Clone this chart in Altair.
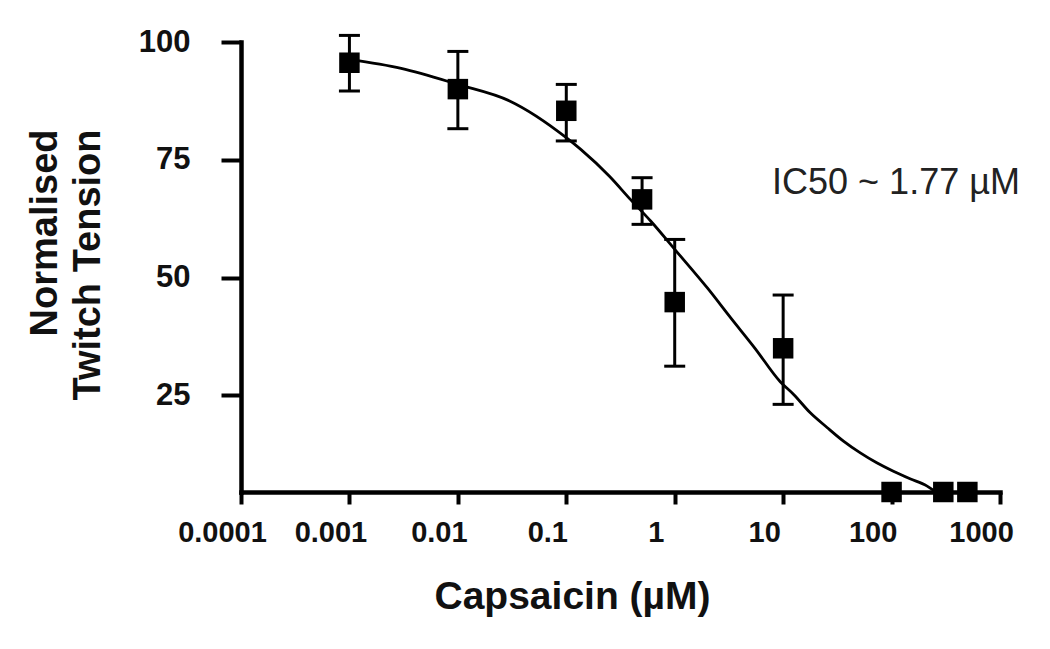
import altair as alt
import pandas as pd

# Measured data (Capsaicin concentration, µM) and normalised twitch tension
conc = [0.001, 0.01, 0.1, 0.5, 1, 10, 100, 300, 500]
tension = [95.6, 90.0, 85.4, 66.6, 44.8, 35.0, 4.5, 4.5, 4.5]

# Error bars (upper / lower ends) for the first six points
err_conc = [0.001, 0.01, 0.1, 0.5, 1, 10]
err_hi = [101.4, 98.0, 91.0, 71.2, 58.1, 46.3]
err_lo = [89.6, 81.6, 79.0, 61.3, 31.2, 23.1]

# Fitted curve
fit_x = [0.001, 0.003, 0.01, 0.03, 0.1, 0.136, 0.25, 0.39, 0.6, 1, 2, 3.3, 5.5, 9.4, 12.5,
         17.8, 25.4, 36, 51.5, 73, 104, 148, 211, 252]
fit_y = [96.3, 94.4, 91.0, 87.5, 79.7, 77.2, 71.5, 66.6, 62.0, 56.0, 47.8, 41.4, 35.0, 27.9, 25.2,
         21.3, 18.2, 15.3, 12.8, 10.7, 8.9, 7.3, 5.8, 4.6]

x_ticks = [0.0001, 0.001, 0.01, 0.1, 1, 10, 100, 1000]
y_ticks = [25, 50, 75, 100]

ann_text = ["IC50 ~ 1.77 µM"]
ann_x = [7.9]
ann_y = [67.7]

FONT = "Liberation Sans"

pts = pd.DataFrame({"conc": conc, "tension": tension})
errs = pd.DataFrame({"conc": err_conc, "hi": err_hi, "lo": err_lo})
fit = pd.DataFrame({"conc": fit_x, "tension": fit_y})
ann = pd.DataFrame({"conc": ann_x, "tension": ann_y, "label": ann_text})

xscale = alt.Scale(type="log", domain=[0.0001, 1000], nice=False)
yscale = alt.Scale(domain=[4.5, 100], nice=False, zero=False)

xaxis = alt.Axis(
    values=x_ticks, format="~g", grid=False,
    domainColor="black", domainWidth=4.5, domainCap="square",
    tickColor="black", tickWidth=4, tickSize=12,
    labelFont=FONT, labelFontSize=29, labelFontWeight="bold", labelColor="#111",
    labelPadding=14, labelOffset=-19, labelFlush=False, labelOverlap=False,
    title="Capsaicin (µM)", titleFont=FONT, titleFontSize=39, titleFontWeight="bold",
    titleColor="#111", titleX=331, titleY=116, titleAlign="center",
    titleBaseline="alphabetic", titleAnchor="start",
)
yaxis = alt.Axis(
    values=y_ticks, grid=False,
    domainColor="black", domainWidth=4.5, domainCap="square",
    tickColor="black", tickWidth=4, tickSize=20,
    labelFont=FONT, labelFontSize=31, labelFontWeight="bold", labelColor="#111",
    labelPadding=31, labelFlush=False,
    title=["Normalised", "Twitch Tension"], titleFont=FONT, titleFontSize=38,
    titleFontWeight="bold", titleColor="#111", titleAngle=270,
    titleX=-196, titleY=87, titleAlign="right", titleBaseline="middle",
    titleLineHeight=43, titleAnchor="start",
)

line = alt.Chart(fit).mark_line(color="black", strokeWidth=2.8, interpolate="monotone").encode(
    x=alt.X("conc:Q", scale=xscale, axis=xaxis),
    y=alt.Y("tension:Q", scale=yscale, axis=yaxis),
)

rules = alt.Chart(errs).mark_rule(color="black", strokeWidth=3).encode(
    x=alt.X("conc:Q", scale=xscale),
    y=alt.Y("lo:Q", scale=yscale),
    y2="hi:Q",
)
cap_hi = alt.Chart(errs).mark_tick(color="black", orient="horizontal", size=21, thickness=3, opacity=1).encode(
    x=alt.X("conc:Q", scale=xscale),
    y=alt.Y("hi:Q", scale=yscale),
)
cap_lo = alt.Chart(errs).mark_tick(color="black", orient="horizontal", size=21, thickness=3, opacity=1).encode(
    x=alt.X("conc:Q", scale=xscale),
    y=alt.Y("lo:Q", scale=yscale),
)

squares = alt.Chart(pts).mark_square(color="black", size=420, opacity=1).encode(
    x=alt.X("conc:Q", scale=xscale),
    y=alt.Y("tension:Q", scale=yscale),
)

text = alt.Chart(ann).mark_text(
    font=FONT, fontSize=36, color="#222", align="left", baseline="alphabetic"
).encode(
    x=alt.X("conc:Q", scale=xscale),
    y=alt.Y("tension:Q", scale=yscale),
    text="label:N",
)

chart = alt.layer(line, rules, cap_hi, cap_lo, squares, text).properties(
    width=759, height=450,
    autosize=alt.AutoSizeParams(type="none"),
    padding={"left": 233, "top": 34, "right": 30, "bottom": 140},
    background="white",
).configure_view(stroke=None)

chart.save("out.html", embed_options={"renderer": "svg", "actions": False})
